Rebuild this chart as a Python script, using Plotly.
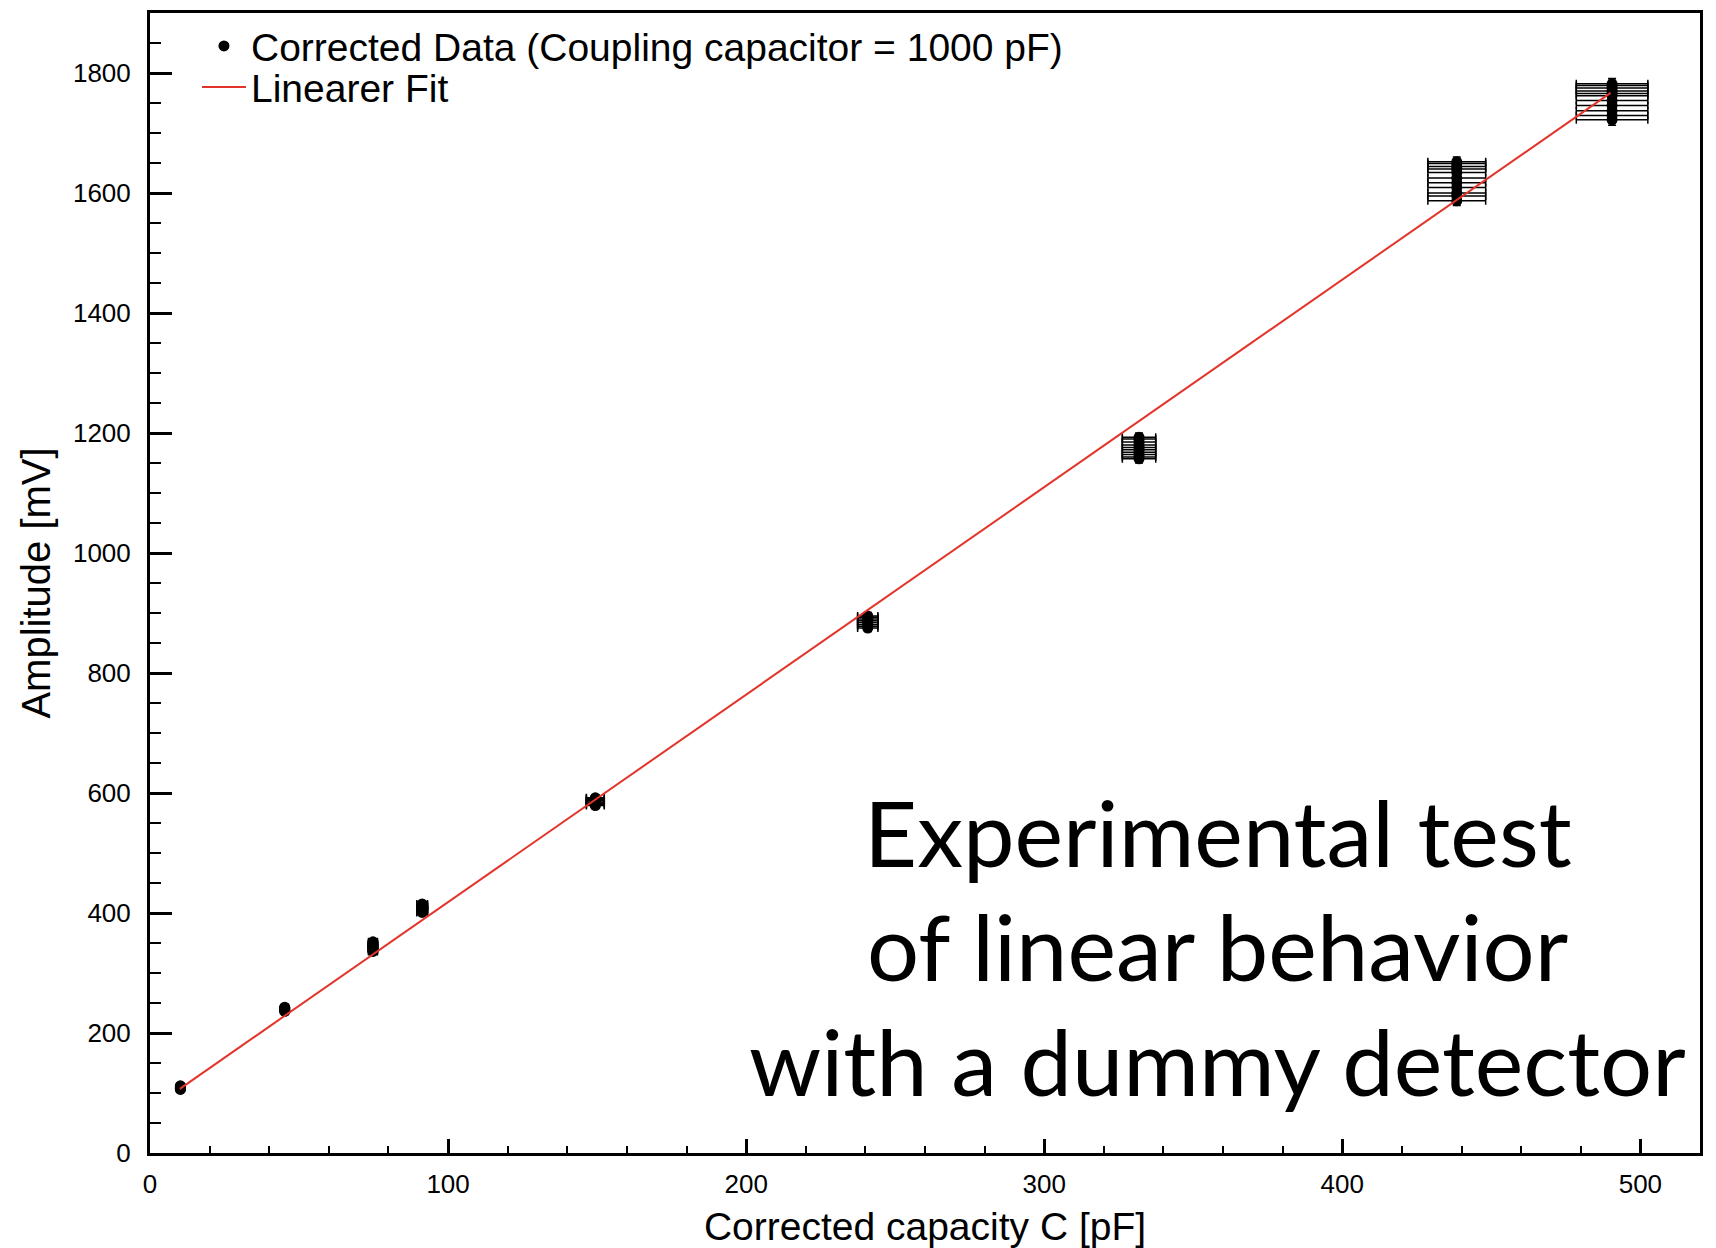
import plotly.graph_objects as go

# ---- data ----
cluster_x = [10.2, 45.2, 74.8, 91.3, 149.4, 240.8, 331.8, 438.4, 490.5]
cluster_xerr = [0.6, 1.0, 1.5, 1.8, 3.0, 3.4, 5.6, 9.7, 12.0]
cluster_yerr = [2, 3, 4, 4, 5, 6, 7, 8, 9]
amp_c1 = [106, 107, 108, 109, 110, 111, 112]
amp_c2 = [236, 237, 238, 239, 240, 241, 242, 243]
amp_c3 = [336, 338, 340, 342, 344, 346, 348, 350, 352]
amp_c4 = [401, 403, 405, 407, 409, 411, 413, 415]
amp_c5 = [579, 581, 583, 585, 587, 589, 591, 592]
amp_c6 = [875, 878, 881, 884, 887, 890, 893, 895]
amp_c7 = [1157, 1160, 1164, 1168, 1172, 1176, 1180, 1185, 1190, 1193]
amp_c8 = [1587, 1595, 1600, 1609, 1617, 1625, 1634, 1640, 1644, 1649, 1652]
amp_c9 = [1722, 1729, 1737, 1746, 1754, 1762, 1766, 1770, 1775, 1779, 1782]
amp_clusters = [amp_c1, amp_c2, amp_c3, amp_c4, amp_c5, amp_c6, amp_c7, amp_c8, amp_c9]

fit_slope = 3.458
fit_intercept = 72.4
fit_x_range = [10, 490]

x_ticks = [0, 100, 200, 300, 400, 500]
y_ticks = [0, 200, 400, 600, 800, 1000, 1200, 1400, 1600, 1800]

annotation_lines = ["Experimental test", "of linear behavior", "with a dummy detector"]
annotation_y = [0.2316, 0.1316, 0.0307]

# ---- build points ----
xs, ys, exs, eys = [], [], [], []
for cx, ex, ey, amps in zip(cluster_x, cluster_xerr, cluster_yerr, amp_clusters):
    for a in amps:
        xs.append(cx)
        ys.append(a)
        exs.append(ex)
        eys.append(ey)

FONT = "Liberation Sans, Arial, sans-serif"

fig = go.Figure()
fig.add_trace(go.Scatter(
    x=xs, y=ys, mode="markers",
    name="Corrected Data (Coupling capacitor = 1000 pF)",
    marker=dict(color="black", size=11, symbol="circle"),
    error_x=dict(type="data", array=exs, visible=True, color="black", thickness=1.5, width=4),
    error_y=dict(type="data", array=eys, visible=True, color="black", thickness=1.5, width=4),
    legend="legend",
))
fit_y = [fit_slope * v + fit_intercept for v in fit_x_range]
fig.add_trace(go.Scatter(
    x=fit_x_range, y=fit_y, mode="lines", name="Linearer Fit",
    line=dict(color="#e3342a", width=2),
    legend="legend2",
))

for txt, yy in zip(annotation_lines, annotation_y):
    fig.add_annotation(
        x=0.689, xref="paper", y=yy, yref="paper", xanchor="center", yanchor="bottom",
        text=txt, showarrow=False, align="center",
        font=dict(family="Lato, sans-serif", size=92, color="black"),
    )

legend_common = dict(xanchor="left", yanchor="middle", bgcolor="rgba(0,0,0,0)",
                     font=dict(size=39, family=FONT), itemwidth=44)
fig.update_layout(
    width=1716, height=1248,
    margin=dict(l=150, r=16, t=13, b=95),
    paper_bgcolor="white", plot_bgcolor="white",
    font=dict(family=FONT, color="black", size=26),
    showlegend=True,
    legend=dict(x=0.0303, y=0.971, **legend_common),
    legend2=dict(x=0.0303, y=0.935, **legend_common),
)
fig.update_xaxes(
    range=[0, 520], showgrid=False, zeroline=False, automargin=False,
    tickvals=x_ticks, ticks="inside", ticklen=14, tickwidth=2.5, tickcolor="black",
    minor=dict(ticks="inside", ticklen=7, tickwidth=1.5, dtick=20, tick0=0, tickcolor="black"),
    showline=True, linewidth=3, linecolor="black", mirror=True,
    tickfont=dict(size=26, family=FONT), ticklabelstandoff=6,
    title=dict(text="Corrected capacity C [pF]", font=dict(size=39, family=FONT), standoff=15),
)
fig.update_yaxes(
    range=[0, 1900], showgrid=False, zeroline=False, automargin=False,
    tickvals=y_ticks, ticks="inside", ticklen=22, tickwidth=2.5, tickcolor="black",
    minor=dict(ticks="inside", ticklen=11, tickwidth=1.5, dtick=50, tick0=0, tickcolor="black"),
    showline=True, linewidth=3, linecolor="black", mirror=True,
    tickfont=dict(size=26, family=FONT), ticklabelstandoff=11,
    title=dict(text="Amplitude [mV]", font=dict(size=40, family=FONT), standoff=10),
)

fig.write_html("out.html")
